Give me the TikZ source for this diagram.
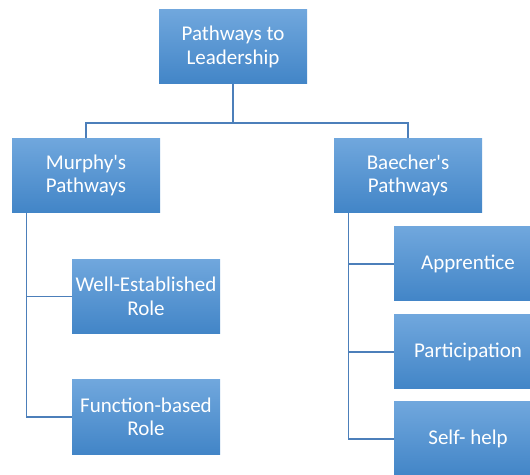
\documentclass[tikz,border=0pt]{standalone}
\usepackage{fontspec}
\setmainfont{Carlito}[Ligatures=TeXOff]
\newfontfamily\captionfont{Liberation Serif}
\usetikzlibrary{positioning}

\definecolor{boxtop}{RGB}{112,167,221}
\definecolor{boxbottom}{RGB}{66,133,199}
\definecolor{linkblue}{RGB}{76,127,186}

\tikzset{
  pathbox/.style={rectangle, minimum width=148pt, minimum height=74pt,
    inner sep=0pt, top color=boxtop, bottom color=boxbottom,
    text=white, align=center, font=\fontsize{21}{23.5}\selectfont},
  link/.style={draw=linkblue, line width=1.3pt}
}

\begin{document}
\begin{tikzpicture}[x=1pt,y=1pt]
  \useasboundingbox (0,0) rectangle (530,474);
  % cut-off caption letter
  \node[anchor=base, inner sep=0pt, font=\captionfont\bfseries\itshape\fontsize{21}{23}\selectfont] (cap) at (6,478) {p};

  \node[pathbox] (root) at (233,427) {Pathways to\\Leadership};
  \node[pathbox] (murphy) at (86,298.5) {Murphy's\\Pathways};
  \node[pathbox] (baecher) at (408,298.5) {Baecher's\\Pathways};

  \node[pathbox] (well) at (146,177.5) {Well-Established\\Role};
  \node[pathbox] (func) at (146,57) {Function-based\\Role};

  \node[pathbox] (appr) at (468,210) {Apprentice};
  \node[pathbox] (part) at (468,122) {Participation};
  \node[pathbox] (self) at (468,35) {Self- help};

  \coordinate (bus) at (233,351);
  \coordinate (mtrunk) at ([xshift=15pt]murphy.south west);
  \coordinate (btrunk) at ([xshift=15pt]baecher.south west);

  \path[link]
    (root.south) -- (bus)
    (murphy.north) |- (bus) -| (baecher.north)
    (mtrunk) |- (well.west)
    (mtrunk) |- (func.west)
    (btrunk) |- (appr.west)
    (btrunk) |- (part.west)
    (btrunk) |- (self.west);
\end{tikzpicture}
\end{document}
